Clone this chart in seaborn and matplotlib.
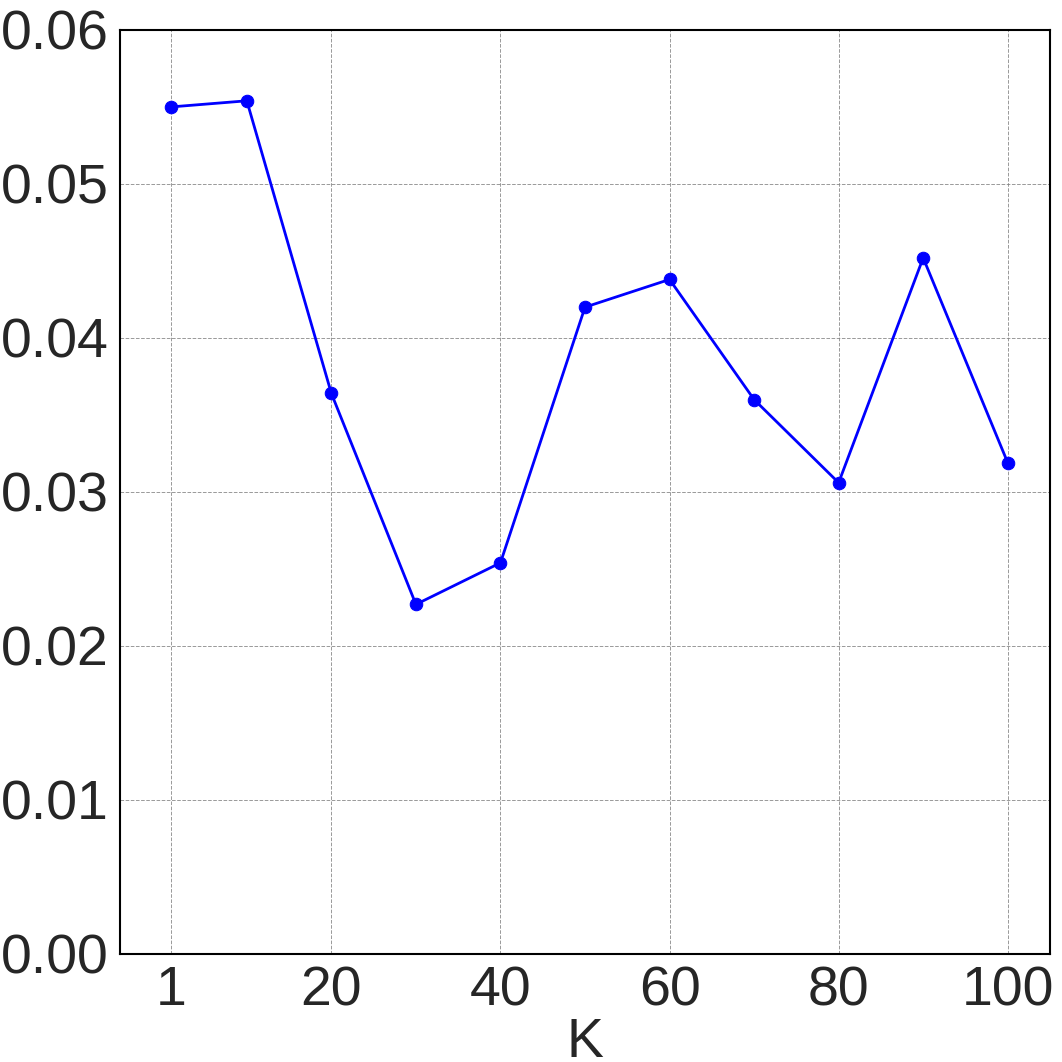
import matplotlib
matplotlib.use("Agg")
import matplotlib.pyplot as plt
import seaborn as sns
import pandas as pd

k_values = [1, 10, 20, 30, 40, 50, 60, 70, 80, 90, 100]
scores = [0.0550, 0.0554, 0.0364, 0.0227, 0.0254, 0.0420, 0.0438, 0.0360, 0.0306, 0.0452, 0.0319]
x_ticks = [1, 20, 40, 60, 80, 100]
y_ticks = [0.00, 0.01, 0.02, 0.03, 0.04, 0.05, 0.06]

sns.set_style("white")
plt.rcParams['font.family'] = ['Liberation Sans', 'DejaVu Sans']

df = pd.DataFrame({"K": k_values, "score": scores})

fig = plt.figure(figsize=(10.62, 10.62), dpi=100)
ax = fig.add_axes([0.113, 0.1017, 0.8757, 0.8701])
sns.lineplot(data=df, x="K", y="score", ax=ax, color="blue", linewidth=2,
             marker="o", markersize=9, markeredgecolor="blue")

ax.set_xlim(-5, 105)
ax.set_ylim(0, 0.06)
ax.set_xticks(x_ticks)
ax.set_yticks(y_ticks)
ax.set_yticklabels([f"{v:.2f}" for v in y_ticks])
ax.grid(True, linestyle="--", color="gray", linewidth=0.7, alpha=0.8)
ax.tick_params(labelsize=40, colors="#262626", length=0, pad=8)
ax.set_xlabel("K", fontsize=40, color="#262626", labelpad=0)
ax.set_ylabel("")
for s in ax.spines.values():
    s.set_color("black")
    s.set_linewidth(1.5)

plt.savefig("out.png", dpi=100)
